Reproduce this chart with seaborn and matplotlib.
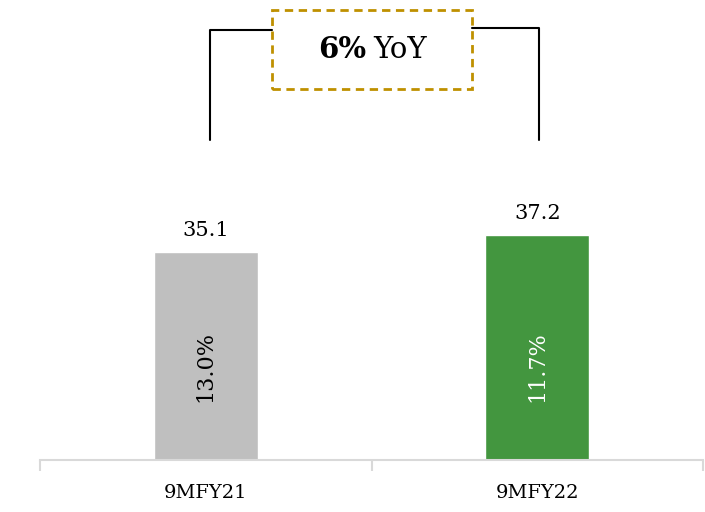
import matplotlib
matplotlib.use("Agg")
import matplotlib.pyplot as plt
import seaborn as sns
import pandas as pd
from matplotlib.patches import Rectangle

# ----------- données -----------
periods = ["9MFY21", "9MFY22"]
values = [35.1, 37.2]
margins = ["13.0%", "11.7%"]
bar_colors = ["#BFBFBF", "#43963F"]
margin_colors = ["black", "white"]
growth_bold = "6%"
growth_rest = "YoY"

df = pd.DataFrame({"period": periods, "value": values})

sns.set_theme(style="white")
plt.rcParams["font.family"] = ["DejaVu Serif"]

fig = plt.figure(figsize=(7.05, 5.12), dpi=100)
ax = fig.add_axes([40 / 705, 1 - 460 / 512, 663 / 705, 460 / 512])

sns.barplot(data=df, x="period", y="value", hue="period", palette=bar_colors,
            width=0.314, legend=False, ax=ax, saturation=1)

y0 = 9.41
k = 8.095  # px par unité
ax.set_ylim(y0, y0 + 460 / k)
ax.set_xlim(-0.5, 1.5)

def py(p):
    return y0 + (460 - p) / k

# valeurs au-dessus des barres
for i, v in enumerate(values):
    ax.annotate(f"{v:.1f}", (i, v), xytext=(0, 9), textcoords="offset points",
                ha="center", va="bottom", fontsize=15, color="black")

# marges dans les barres
for i, m in enumerate(margins):
    ax.text(i, py(367), m, rotation=90, ha="center", va="center",
            fontsize=16, color=margin_colors[i])

# axe
for s in ["left", "top", "right"]:
    ax.spines[s].set_visible(False)
ax.spines["bottom"].set_color("#D9D9D9")
ax.spines["bottom"].set_linewidth(1.5)
ax.set_yticks([])
ax.set_xlabel("")
ax.set_ylabel("")
ax.set_xticks([0, 1])
ax.set_xticklabels(periods, fontsize=14, color="black")
ax.tick_params(axis="x", which="major", length=0, pad=17)
ax.set_xticks([-0.5, 0.5, 1.5], minor=True)
ax.tick_params(axis="x", which="minor", length=8, width=1.5, color="#D9D9D9",
               direction="out", bottom=True)

# crochet YoY
xl = 0 + 4 / 331.5
xr = 1 + 2 / 331.5
bl = (272 - 40) / 331.5 - 0.5
br = (472 - 40) / 331.5 - 0.5
ax.plot([xl, xl, bl], [py(140), py(30), py(30)], color="black", lw=1.5,
        clip_on=False)
ax.plot([br, xr, xr], [py(28), py(28), py(140)], color="black", lw=1.5,
        clip_on=False)

box = Rectangle((272 / 705, 1 - 89 / 512), 200 / 705, 79 / 512,
                transform=fig.transFigure, fill=False, edgecolor="#BF9000",
                linestyle=(0, (3, 2)), linewidth=2)
fig.patches.append(box)
fig.text(366 / 705, 1 - 50 / 512, growth_bold, ha="right", va="center",
         fontsize=21, fontweight="bold", color="black")
fig.text(373 / 705, 1 - 50 / 512, growth_rest, ha="left", va="center",
         fontsize=21, color="black")

fig.savefig("out.png", dpi=100)
